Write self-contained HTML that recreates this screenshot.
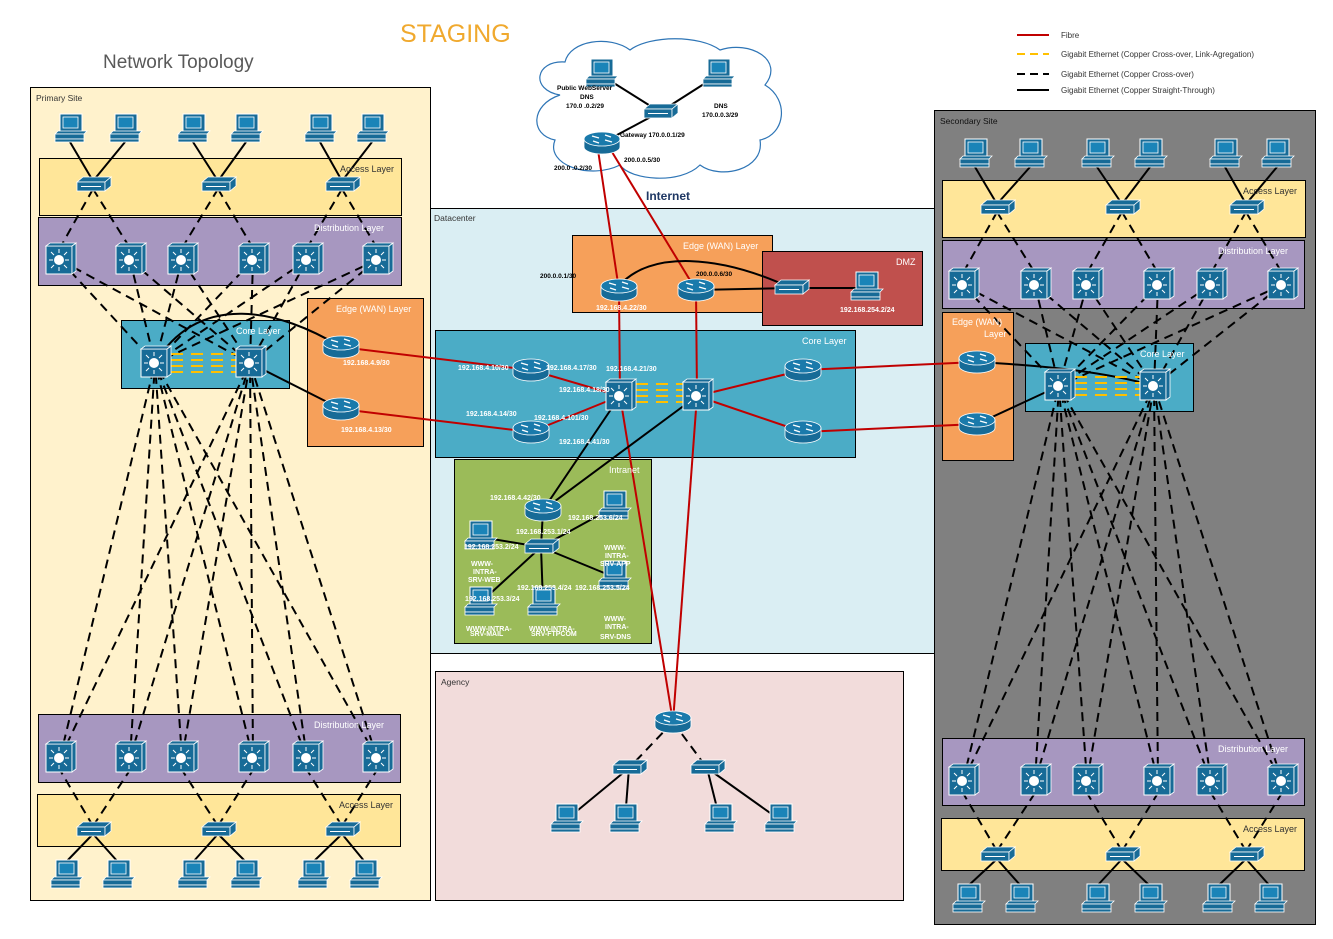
<!DOCTYPE html>
<html><head><meta charset="utf-8"><style>
html,body{margin:0;padding:0;background:#fff;}
svg{display:block;font-family:"Liberation Sans",sans-serif;}
.w{fill:#fff;font-size:7px;font-weight:bold}
.b{fill:#000;font-size:6.5px;font-weight:bold}
.lay{fill:#fff;font-size:9px}
</style></head><body>
<svg id="s" width="1333" height="939" viewBox="0 0 1333 939" xmlns="http://www.w3.org/2000/svg">
<defs>
<g id="pc"><rect x="-10" y="-16" width="22" height="18" fill="#176b97" stroke="#fff" stroke-width="1"/><rect x="-7" y="-13" width="15" height="11" fill="#1a84b8" stroke="#fff" stroke-width="0.8"/><polygon points="-15,4 14,4 17,1 -12,1" fill="#176b97" stroke="#fff" stroke-width="0.8"/><rect x="-15" y="4" width="29" height="5" fill="#176b97" stroke="#fff" stroke-width="0.8"/><rect x="-15" y="9" width="29" height="3" fill="#176b97" stroke="#fff" stroke-width="0.8"/></g>
<g id="sw"><polygon points="-16,-3 -10,-8 18,-8 12,-3" fill="#176b97" stroke="#fff" stroke-width="0.8"/><rect x="-16" y="-3" width="28" height="9" fill="#176b97" stroke="#fff" stroke-width="0.8"/><polygon points="12,-3 18,-8 18,1 12,6" fill="#176b97" stroke="#fff" stroke-width="0.8"/><line x1="-12" y1="1.5" x2="8" y2="1.5" stroke="#fff"/></g>
<g id="ms"><rect x="-14" y="-14" width="26" height="28" fill="#176b97" stroke="#fff" stroke-width="1"/><polygon points="12,-14 16,-17 16,11 12,14" fill="#176b97" stroke="#fff" stroke-width="0.8"/><polygon points="-14,-14 -10,-17 16,-17 12,-14" fill="#176b97" stroke="#fff" stroke-width="0.8"/><circle cx="-1" cy="0" r="5" fill="#fff"/><g stroke="#fff" stroke-width="1"><line x1="-11" y1="0" x2="-7" y2="0"/><line x1="5" y1="0" x2="9" y2="0"/><line x1="-1" y1="-11" x2="-1" y2="-7"/><line x1="-1" y1="7" x2="-1" y2="11"/><line x1="-9" y1="-8" x2="-6" y2="-5"/><line x1="4" y1="5" x2="7" y2="8"/><line x1="7" y1="-8" x2="4" y2="-5"/><line x1="-6" y1="5" x2="-9" y2="8"/></g></g>
<g id="rt"><path d="M-18,-4 v8 a18,7 0 0,0 36,0 v-8 z" fill="#176b97" stroke="#fff" stroke-width="0.8"/><ellipse cx="0" cy="-4" rx="18" ry="7" fill="#1a7aab" stroke="#fff" stroke-width="0.8"/><g stroke="#fff" stroke-width="1.3"><line x1="-10" y1="-7" x2="-3" y2="-5"/><line x1="10" y1="-1" x2="3" y2="-3"/><line x1="3" y1="-8" x2="9" y2="-6"/><line x1="-3" y1="0" x2="-9" y2="-2"/></g></g>
</defs>
<text x="400" y="42" font-size="25" fill="#f0a92e">STAGING</text>
<text x="103" y="68" font-size="19" fill="#595959">Network Topology</text>
<line x1="1017" y1="35" x2="1049" y2="35" stroke="#c00000" stroke-width="2"/><text x="1061" y="38" font-size="8" fill="#333">Fibre</text>
<line x1="1017" y1="54" x2="1049" y2="54" stroke="#ffc000" stroke-width="2" stroke-dasharray="8,5"/><text x="1061" y="57" font-size="8" fill="#333">Gigabit Ethernet (Copper Cross-over, Link-Agregation)</text>
<line x1="1017" y1="74" x2="1049" y2="74" stroke="#000" stroke-width="2" stroke-dasharray="8,5"/><text x="1061" y="77" font-size="8" fill="#333">Gigabit Ethernet (Copper Cross-over)</text>
<line x1="1017" y1="90" x2="1049" y2="90" stroke="#000" stroke-width="2"/><text x="1061" y="93" font-size="8" fill="#333">Gigabit Ethernet (Copper Straight-Through)</text>
<rect x="30.5" y="87.5" width="400" height="813" fill="#fff2cc" stroke="#000"/>
<text x="36" y="101" font-size="8.5" fill="#333">Primary Site</text>
<rect x="39.5" y="158.5" width="362" height="57" fill="#ffe699" stroke="#000"/>
<rect x="38.5" y="217.5" width="363" height="68" fill="#a797c0" stroke="#000"/>
<rect x="121.5" y="320.5" width="168" height="68" fill="#4bacc6" stroke="#000"/>
<rect x="307.5" y="298.5" width="116" height="148" fill="#f6a05a" stroke="#000"/>
<rect x="38.5" y="714.5" width="362" height="68" fill="#a797c0" stroke="#000"/>
<rect x="37.5" y="794.5" width="363" height="52" fill="#ffe699" stroke="#000"/>
<rect x="430.5" y="208.5" width="505" height="445" fill="#daeef3" stroke="#000"/>
<text x="434" y="221" font-size="8.5" fill="#333">Datacenter</text>
<rect x="572.5" y="235.5" width="200" height="77" fill="#f6a05a" stroke="#000"/>
<rect x="762.5" y="251.5" width="160" height="74" fill="#c0504d" stroke="#000"/>
<rect x="435.5" y="330.5" width="420" height="127" fill="#4bacc6" stroke="#000"/>
<rect x="454.5" y="459.5" width="197" height="184" fill="#9bbb59" stroke="#000"/>
<rect x="435.5" y="671.5" width="468" height="229" fill="#f2dcdb" stroke="#000"/>
<text x="441" y="685" font-size="8.5" fill="#333">Agency</text>
<rect x="934.5" y="110.5" width="381" height="814" fill="#808080" stroke="#000"/>
<text x="940" y="124" font-size="8.5" fill="#111">Secondary Site</text>
<rect x="942.5" y="180.5" width="363" height="57" fill="#ffe699" stroke="#000"/>
<rect x="942.5" y="240.5" width="362" height="68" fill="#a797c0" stroke="#000"/>
<rect x="942.5" y="312.5" width="71" height="148" fill="#f6a05a" stroke="#000"/>
<rect x="1025.5" y="343.5" width="168" height="68" fill="#4bacc6" stroke="#000"/>
<rect x="942.5" y="738.5" width="362" height="67" fill="#a797c0" stroke="#000"/>
<rect x="941.5" y="818.5" width="363" height="52" fill="#ffe699" stroke="#000"/>
<path d="M560,95 C530,90 535,60 565,62 C570,40 610,35 630,50 C650,35 700,35 720,50 C750,40 785,60 765,85 C790,100 785,135 760,140 C765,170 720,180 700,165 C680,185 630,180 620,165 C590,180 545,165 555,140 C530,135 530,105 560,95 Z" fill="#fff" stroke="#2e75b6" stroke-width="1.2"/>
<g id="lines"></g>
<g id="icons"></g>
<text x="340" y="172" font-size="9" fill="#333">Access Layer</text>
<text x="314" y="231" class="lay">Distribution Layer</text>
<text x="236" y="334" class="lay">Core Layer</text>
<text x="336" y="312" class="lay">Edge (WAN) Layer</text>
<text x="314" y="728" class="lay">Distribution Layer</text>
<text x="339" y="808" font-size="9" fill="#333">Access Layer</text>
<text x="683" y="249" class="lay">Edge (WAN) Layer</text>
<text x="896" y="265" class="lay">DMZ</text>
<text x="802" y="344" class="lay">Core Layer</text>
<text x="609" y="473" class="lay">Intranet</text>
<text x="1243" y="194" font-size="9" fill="#333">Access Layer</text>
<text x="1218" y="254" class="lay">Distribution Layer</text>
<text x="952" y="325" class="lay">Edge (WAN)</text>
<text x="984" y="337" class="lay">Layer</text>
<text x="1140" y="357" class="lay">Core Layer</text>
<text x="1218" y="752" class="lay">Distribution Layer</text>
<text x="1243" y="832" font-size="9" fill="#333">Access Layer</text>
<text x="646" y="200" font-size="12" font-weight="bold" fill="#1f3864">Internet</text>
<text x="557" y="90" class="b">Public WebServer</text>
<text x="580" y="99" class="b">DNS</text>
<text x="566" y="108" class="b">170.0 .0.2/29</text>
<text x="714" y="108" class="b">DNS</text>
<text x="702" y="117" class="b">170.0.0.3/29</text>
<text x="620" y="137" class="b">Gateway 170.0.0.1/29</text>
<text x="624" y="162" class="b">200.0.0.5/30</text>
<text x="554" y="170" class="b">200.0 .0.2/30</text>
<text x="540" y="278" class="b">200.0.0.1/30</text>
<text x="696" y="276" class="b">200.0.0.6/30</text>
<text x="596" y="310" class="w">192.168.4.22/30</text>
<text x="840" y="312" class="w">192.168.254.2/24</text>
<text x="343" y="365" class="w">192.168.4.9/30</text>
<text x="341" y="432" class="w">192.168.4.13/30</text>
<text x="458" y="370" class="w">192.168.4.10/30</text>
<text x="546" y="370" class="w">192.168.4.17/30</text>
<text x="606" y="371" class="w">192.168.4.21/30</text>
<text x="559" y="392" class="w">192.168.4.18/30</text>
<text x="466" y="416" class="w">192.168.4.14/30</text>
<text x="534" y="420" class="w">192.168.4.101/30</text>
<text x="559" y="444" class="w">192.168.4.41/30</text>
<text x="490" y="500" class="w">192.168.4.42/30</text>
<text x="516" y="534" class="w">192.168.253.1/24</text>
<text x="568" y="520" class="w">192.168.253.6/24</text>
<text x="464" y="549" class="w">192.168.253.2/24</text>
<text x="517" y="590" class="w">192.168.253.4/24</text>
<text x="575" y="590" class="w">192.168.253.5/24</text>
<text x="465" y="601" class="w">192.168.253.3/24</text>
<text x="471" y="566" class="w" font-size="6">WWW-</text><text x="473" y="574" class="w" font-size="6">INTRA-</text><text x="468" y="582" class="w" font-size="6">SRV-WEB</text>
<text x="604" y="550" class="w" font-size="6">WWW-</text><text x="605" y="558" class="w" font-size="6">INTRA-</text><text x="600" y="566" class="w" font-size="6">SRV-APP</text>
<text x="604" y="621" class="w" font-size="6">WWW-</text><text x="605" y="629" class="w" font-size="6">INTRA-</text><text x="600" y="639" class="w" font-size="6">SRV-DNS</text>
<text x="466" y="631" class="w" font-size="4">WWW-INTRA-</text><text x="470" y="636" class="w" font-size="4">SRV-MAIL</text>
<text x="529" y="631" class="w" font-size="4">WWW-INTRA-</text><text x="531" y="636" class="w" font-size="4">SRV-FTPCOM</text>
</svg>
<script>
var NS="http://www.w3.org/2000/svg",L=document.getElementById('lines'),I=document.getElementById('icons');
function ln(a,b,c,d,col,dash,w){var e=document.createElementNS(NS,'line');e.setAttribute('x1',a);e.setAttribute('y1',b);e.setAttribute('x2',c);e.setAttribute('y2',d);e.setAttribute('stroke',col||'#000');e.setAttribute('stroke-width',w||2);if(dash)e.setAttribute('stroke-dasharray',dash);L.appendChild(e);}
function pth(d,col){var e=document.createElementNS(NS,'path');e.setAttribute('d',d);e.setAttribute('fill','none');e.setAttribute('stroke',col||'#000');e.setAttribute('stroke-width',2);L.appendChild(e);}
function ic(t,x,y){var e=document.createElementNS(NS,'use');e.setAttribute('href','#'+t);e.setAttribute('x',x);e.setAttribute('y',y);I.appendChild(e);}
var D='9,6',R='#c00000';
function site(o){
 o.pt.forEach(function(x,i){ln(x,o.pty+12,o.as[i>>1],o.asy-4);ic('pc',x,o.pty);});
 o.as.forEach(function(x,i){ln(x,o.asy+4,o.ds[2*i],o.dsy-12,'#000',D);ln(x,o.asy+4,o.ds[2*i+1],o.dsy-12,'#000',D);ic('sw',x,o.asy);});
 o.ds.forEach(function(x){o.cs.forEach(function(c){ln(x,o.dsy,c,o.csy,'#000',D);});});
 o.bd.forEach(function(x){o.cs.forEach(function(c){ln(x,o.bdy,c,o.csy,'#000',D);});});
 o.ba.forEach(function(x,i){ln(x,o.bay-4,o.bd[2*i],o.bdy+12,'#000',D);ln(x,o.bay-4,o.bd[2*i+1],o.bdy+12,'#000',D);});
 o.bp.forEach(function(x,i){ln(x,o.bpy-14,o.ba[i>>1],o.bay+4);});
 for(var k=0;k<4;k++)ln(o.cs[0]+16,o.csy-9+k*6,o.cs[1]-14,o.csy-9+k*6,'#ffc000','12,8');
 o.ds.forEach(function(x){ic('ms',x,o.dsy);});o.bd.forEach(function(x){ic('ms',x,o.bdy);});
 o.cs.forEach(function(x){ic('ms',x,o.csy);});o.ba.forEach(function(x){ic('sw',x,o.bay);});o.bp.forEach(function(x){ic('pc',x,o.bpy);});
}
ln(341,347,531,370,R);ln(341,409,531,432,R);
ln(531,370,620,396,R);ln(531,432,620,396,R);
ln(697,396,803,370,R);ln(697,396,803,432,R);
ln(803,370,977,362,R);ln(803,432,977,424,R);
ln(598,150,619,290,R);ln(612,152,696,290,R);
ln(619,290,620,396,R);ln(696,290,697,396,R);
ln(620,396,673,722,R);ln(697,396,673,722,R);
ln(620,396,543,510);ln(697,396,543,510);
ln(543,510,541,547);ln(541,547,614,507);ln(541,547,480,537);ln(541,547,480,603);ln(541,547,543,603);ln(541,547,614,577);
pth('M619,286 C650,250 720,255 791,288');ln(696,290,791,288);ln(791,288,866,288);
ln(601,75,660,112);ln(718,75,660,112);ln(660,112,602,143);
ln(673,722,629,768,'#000',D);ln(673,722,707,768,'#000',D);
ln(629,768,566,820);ln(629,768,625,820);ln(707,768,720,820);ln(707,768,780,820);
pth('M341,347 C280,310 200,290 155,363');ln(341,409,250,363);
pth('M977,362 C1030,365 1100,370 1154,386');ln(977,424,1059,386);
site({pt:[70,125,193,246,320,372],pty:130,as:[93,218,342],asy:185,ds:[60,130,182,253,307,377],dsy:260,cs:[155,250],csy:363,bd:[60,130,182,253,307,377],bdy:758,ba:[93,218,342],bay:830,bp:[66,118,193,246,313,365],bpy:876});
site({pt:[975,1030,1097,1150,1225,1277],pty:155,as:[997,1122,1246],asy:208,ds:[963,1035,1087,1158,1211,1282],dsy:285,cs:[1059,1154],csy:386,bd:[963,1035,1087,1158,1211,1282],bdy:781,ba:[997,1122,1246],bay:855,bp:[968,1021,1097,1150,1218,1270],bpy:900});
for(var k=0;k<4;k++)ln(636,384+k*6,690-4,384+k*6,'#ffc000','12,8');
[[341,347],[341,409],[619,290],[696,290],[531,370],[531,432],[803,370],[803,432],[543,510],[673,722],[602,143],[977,362],[977,424]].forEach(function(p){ic('rt',p[0],p[1]);});
[[620,396],[697,396]].forEach(function(p){ic('ms',p[0],p[1]);});
[[791,288],[541,547],[660,112],[629,768],[707,768]].forEach(function(p){ic('sw',p[0],p[1]);});
[[866,288],[480,537],[614,507],[480,603],[543,603],[614,577],[601,75],[718,75],[566,820],[625,820],[720,820],[780,820]].forEach(function(p){ic('pc',p[0],p[1]);});
</script>
</body></html>
